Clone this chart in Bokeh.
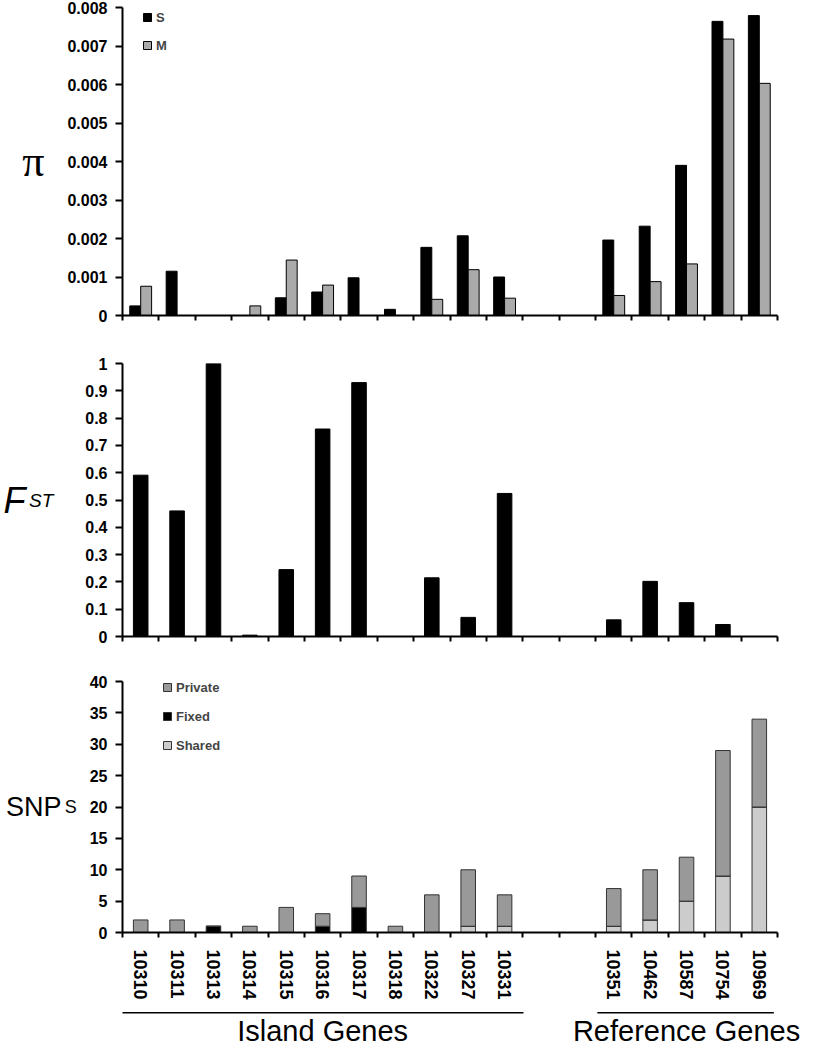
from bokeh.plotting import figure
from bokeh.models import (Range1d, FixedTicker, Legend, LegendItem, ColumnDataSource,
                          LinearAxis)
from bokeh.layouts import column
from bokeh.embed import file_html
from bokeh.resources import INLINE

# ---------------- data ----------------
genes = ["10310", "10311", "10313", "10314", "10315", "10316", "10317", "10318",
         "10322", "10327", "10331", "", "", "10351", "10462", "10587", "10754", "10969"]
island_genes = ["10310", "10311", "10313", "10314", "10315", "10316", "10317", "10318",
                "10322", "10327", "10331"]
reference_genes = ["10351", "10462", "10587", "10754", "10969"]
group_names = ["Island Genes", "Reference Genes"]

pi_S = [0.00025, 0.00115, 0, 0, 0.00046, 0.00061, 0.00098, 0.00016, 0.00177, 0.00207,
        0.00100, 0, 0, 0.00196, 0.00232, 0.00390, 0.00764, 0.00779]
pi_M = [0.00076, 0, 0, 0.00025, 0.00144, 0.00079, 0, 0, 0.00042, 0.00119,
        0.00045, 0, 0, 0.00052, 0.00088, 0.00134, 0.00718, 0.00603]
fst = [0.591, 0.46, 1.0, 0.005, 0.245, 0.76, 0.93, 0, 0.215, 0.07,
       0.524, 0, 0, 0.061, 0.202, 0.124, 0.044, 0]
snp_shared = [0, 0, 0, 0, 0, 0, 0, 0, 0, 1, 1, 0, 0, 1, 2, 5, 9, 20]
snp_fixed = [0, 0, 1, 0, 0, 1, 4, 0, 0, 0, 0, 0, 0, 0, 0, 0, 0, 0]
snp_private = [2, 2, 0, 1, 4, 2, 5, 1, 6, 9, 5, 0, 0, 6, 8, 7, 20, 14]

pi_ticks = [0, 0.001, 0.002, 0.003, 0.004, 0.005, 0.006, 0.007, 0.008]
pi_tick_labels = ["0", "0.001", "0.002", "0.003", "0.004", "0.005", "0.006", "0.007", "0.008"]
fst_ticks = [0, 0.1, 0.2, 0.3, 0.4, 0.5, 0.6, 0.7, 0.8, 0.9, 1]
fst_tick_labels = ["0", "0.1", "0.2", "0.3", "0.4", "0.5", "0.6", "0.7", "0.8", "0.9", "1"]
snp_ticks = [0, 5, 10, 15, 20, 25, 30, 35, 40]

# ---------------- layout constants ----------------
W = 816
BL, BR = 122, 39
FONT = "Liberation Sans"
n = len(genes)
centers = [i + 0.5 for i in range(n)]
bounds = list(range(n + 1))
x_range = Range1d(0, n)


def base_fig(h, top, bottom, y_end, labeled_x=False):
    p = figure(width=W, height=h, x_range=x_range, y_range=Range1d(0, y_end),
               output_backend="svg", toolbar_location=None,
               min_border_left=BL, min_border_right=BR,
               min_border_top=top, min_border_bottom=bottom)
    p.outline_line_color = None
    p.xgrid.visible = False
    p.ygrid.visible = False
    for ax in (p.xaxis[0], p.yaxis[0]):
        ax.axis_line_width = 2
        ax.axis_line_color = "black"
        ax.major_label_text_font = FONT
        ax.major_label_text_font_style = "bold"
        ax.major_label_text_color = "black"
    xa = p.xaxis[0]
    if labeled_x:
        xa.ticker = FixedTicker(ticks=centers, minor_ticks=bounds)
    else:
        xa.ticker = FixedTicker(ticks=[], minor_ticks=bounds)
        xa.major_label_standoff = 0
    xa.major_tick_line_color = None
    xa.major_tick_out = 0
    xa.major_tick_in = 0
    xa.minor_tick_out = 5
    xa.minor_tick_in = 0
    xa.minor_tick_line_width = 2
    xa.minor_tick_line_color = "black"
    ya = p.yaxis[0]
    ya.major_tick_out = 7
    ya.major_tick_in = 0
    ya.major_tick_line_width = 2
    ya.minor_tick_line_color = None
    ya.major_label_standoff = 8
    ya.major_label_text_font_size = "16px"
    ya.axis_label_orientation = "horizontal"
    ya.axis_label_text_color = "black"
    return p


def label_axis(p, text, size, standoff, style="normal", baseline=None):
    ax = LinearAxis(ticker=FixedTicker(ticks=[]), axis_line_color=None,
                    major_tick_line_color=None, minor_tick_line_color=None,
                    major_tick_out=0, minor_tick_out=0, major_label_standoff=0,
                    axis_label=text, axis_label_standoff=standoff,
                    axis_label_orientation="horizontal",
                    axis_label_text_font=FONT, axis_label_text_font_size=size,
                    axis_label_text_font_style=style, axis_label_text_color="black")
    if baseline is not None:
        ax.axis_label_text_baseline = baseline
    p.add_layout(ax, "left")
    return ax


def style_legend(lg, spacing, row_h):
    lg.padding = 0
    lg.margin = 0
    lg.spacing = spacing
    lg.label_height = row_h
    lg.glyph_height = 10
    lg.glyph_width = 10
    lg.label_standoff = 4
    lg.label_text_font = FONT
    lg.label_text_font_style = "bold"
    lg.label_text_font_size = "13px"
    lg.border_line_color = None
    lg.background_fill_alpha = 0


# ---------------- panel 1 : pi ----------------
H1, T1, B1 = 333, 7, 18
p1 = base_fig(H1, T1, B1, 0.008)
p1.yaxis[0].ticker = FixedTicker(ticks=pi_ticks)
p1.yaxis[0].major_label_overrides = {t: l for t, l in zip(pi_ticks, pi_tick_labels)}
p1.yaxis[0].axis_label = "π"
p1.yaxis[0].axis_label_text_font = "Liberation Serif"
p1.yaxis[0].axis_label_text_font_size = "44px"
p1.yaxis[0].axis_label_text_font_style = "normal"
p1.yaxis[0].axis_label_standoff = 20
sS = ColumnDataSource(dict(x=[c - 0.15 for c, v in zip(centers, pi_S) if v > 0],
                           top=[v for v in pi_S if v > 0]))
sM = ColumnDataSource(dict(x=[c + 0.15 for c, v in zip(centers, pi_M) if v > 0],
                           top=[v for v in pi_M if v > 0]))
rS = p1.vbar(x="x", top="top", bottom=0, width=0.3, source=sS,
             fill_color="black", line_color="black", line_width=1)
rM = p1.vbar(x="x", top="top", bottom=0, width=0.3, source=sM,
             fill_color="#aaaaaa", line_color="black", line_width=1)
fh1 = H1 - T1 - B1
leg1 = Legend(items=[LegendItem(label="S", renderers=[rS]),
                     LegendItem(label="M", renderers=[rM])],
              location=(20, fh1 - 47))
style_legend(leg1, 10, 18)
p1.add_layout(leg1)

# ---------------- panel 2 : Fst ----------------
H2, T2, B2 = 317, 30, 14
p2 = base_fig(H2, T2, B2, 1.0)
p2.yaxis[0].ticker = FixedTicker(ticks=fst_ticks)
p2.yaxis[0].major_label_overrides = {t: l for t, l in zip(fst_ticks, fst_tick_labels)}
p2.yaxis[0].axis_label = "ST"
p2.yaxis[0].axis_label_text_font = FONT
p2.yaxis[0].axis_label_text_font_size = "19px"
p2.yaxis[0].axis_label_text_font_style = "italic"
p2.yaxis[0].axis_label_standoff = 29
label_axis(p2, "F", "36px", 0, style="italic", baseline="alphabetic")
sF = ColumnDataSource(dict(x=[c for c, v in zip(centers, fst) if v > 0],
                           top=[v for v in fst if v > 0]))
p2.vbar(x="x", top="top", bottom=0, width=0.4, source=sF,
        fill_color="black", line_color="black")

# ---------------- panel 3 : SNPs ----------------
H3, T3, B3 = 352, 31, 66
p3 = base_fig(H3, T3, B3, 40, labeled_x=True)
p3.yaxis[0].ticker = FixedTicker(ticks=snp_ticks)
p3.yaxis[0].axis_label = "S"
p3.yaxis[0].axis_label_text_font = FONT
p3.yaxis[0].axis_label_text_font_size = "18px"
p3.yaxis[0].axis_label_text_font_style = "normal"
p3.yaxis[0].axis_label_standoff = 10
label_axis(p3, "SNP", "27px", 0)
xa3 = p3.xaxis[0]
xa3.major_label_overrides = {c: g for c, g in zip(centers, genes)}
xa3.major_label_orientation = "vertical"
xa3.major_label_text_font_size = "18px"
xa3.major_label_standoff = 12
sN = ColumnDataSource(dict(x=centers, shared=snp_shared, fixed=snp_fixed, private=snp_private))
rs = p3.vbar_stack(["shared", "fixed", "private"], x="x", width=0.4, source=sN,
                   fill_color=["#cccccc", "#000000", "#999999"],
                   line_color="#333333", line_width=1)
fh3 = H3 - T3 - B3
leg3 = Legend(items=[LegendItem(label="Private", renderers=[rs[2]]),
                     LegendItem(label="Fixed", renderers=[rs[1]]),
                     LegendItem(label="Shared", renderers=[rs[0]])],
              location=(40, fh3 - (3 * 18 + 2 * 11) - 1))
style_legend(leg3, 11, 18)
p3.add_layout(leg3)

# ---------------- panel 4 : group labels ----------------
H4, B4 = 47, 33
p4 = figure(width=W, height=H4, x_range=x_range, y_range=Range1d(0, H4 - B4),
            output_backend="svg", toolbar_location=None, y_axis_location=None,
            min_border_left=BL, min_border_right=BR, min_border_top=0,
            min_border_bottom=B4)
p4.grid.visible = False
p4.outline_line_color = None
n_isl = len(island_genes)
ref_start = genes.index(reference_genes[0])
group_centers = [n_isl / 2, (ref_start + n) / 2]
groups = ColumnDataSource(dict(x0=[-0.1, ref_start + 0.05], x1=[n_isl + 0.02, n - 0.1],
                               y0=[2, 2], y1=[2, 2]))
p4.segment(x0="x0", y0="y0", x1="x1", y1="y1", source=groups,
           line_color="black", line_width=1.5)
xa4 = p4.xaxis[0]
xa4.ticker = FixedTicker(ticks=group_centers)
xa4.major_label_overrides = {c: g for c, g in zip(group_centers, group_names)}
xa4.axis_line_color = None
xa4.major_tick_line_color = None
xa4.minor_tick_line_color = None
xa4.major_tick_out = 0
xa4.major_tick_in = 0
xa4.major_label_standoff = 0
xa4.major_label_text_font = FONT
xa4.major_label_text_font_size = "29px"
xa4.major_label_text_color = "black"

layout = column(p1, p2, p3, p4, spacing=0)
open("out.html", "w").write(file_html(layout, INLINE))
